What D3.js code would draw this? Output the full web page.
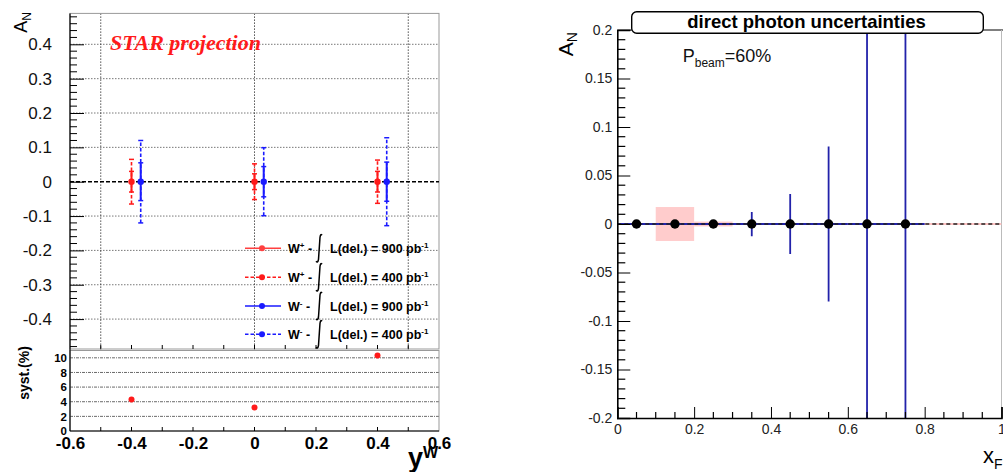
<!DOCTYPE html>
<html><head><meta charset="utf-8">
<script src="https://cdn.jsdelivr.net/npm/d3@7"></script>
<style>
html,body{margin:0;padding:0;background:#fff;}
svg{display:block;font-family:"Liberation Sans",Arial,sans-serif;}
</style></head>
<body>
<svg id="c" width="1003" height="472"></svg>
<script>
// ---------- Left chart data ----------
const yWplus = [-0.4, 0, 0.4];
const yWminus = [-0.37, 0.03, 0.43];
const anWplus = [0, 0, 0];
const anWminus = [0, 0, 0];
const errWplus900 = [0.03, 0.023, 0.03];
const errWplus400 = [0.065, 0.052, 0.063];
const errWminus900 = [0.055, 0.044, 0.057];
const errWminus400 = [0.12, 0.099, 0.128];
const systPct = [4.3, 3.2, 10.3];
const leftXTicks = [-0.6, -0.4, -0.2, 0, 0.2, 0.4, 0.6];
const leftYTicks = [-0.4, -0.3, -0.2, -0.1, 0, 0.1, 0.2, 0.3, 0.4];
const systTicks = [0, 2, 4, 6, 8, 10];
const legendSigns = ["+", "+", "-", "-"];
const legendLumis = ["900", "400", "900", "400"];
// ---------- Right chart data ----------
const xF = [0.05, 0.15, 0.25, 0.35, 0.45, 0.55, 0.65, 0.75];
const anPhoton = [0, 0, 0, 0, 0, 0, 0, 0];
const anPhotonErr = [0, 0, 0, 0.0125, 0.031, 0.080, 0.35, 0.45];
const systBinLo = [0.0, 0.1, 0.2, 0.3, 0.4, 0.5, 0.6, 0.7, 0.8, 0.9];
const systBinHi = [0.1, 0.2, 0.3, 0.4, 0.5, 0.6, 0.7, 0.8, 0.9, 1.0];
const systHalf = [0, 0.0175, 0.0025, 0, 0, 0, 0, 0, 0, 0];
const rightXTicks = [0, 0.2, 0.4, 0.6, 0.8, 1];
const rightYTicks = [-0.2, -0.15, -0.1, -0.05, 0, 0.05, 0.1, 0.15, 0.2];

const svg = d3.select("#c");
const fmt = d => (d === 0 ? "0" : String(d));

// ================= LEFT PANEL =================
const L = {x0: 70, x1: 439, yTop: 13.4, yMid: 350, yBot: 431};
const xL = d3.scaleLinear().domain([-0.6, 0.6]).range([L.x0, L.x1]);
const yU = d3.scaleLinear().domain([-0.49, 0.49]).range([L.yMid, L.yTop]);
const yS = d3.scaleLinear().domain([0, 11]).range([L.yBot, L.yMid + 0.5]);

const gl = svg.append("g");
gl.selectAll(".hg").data(leftYTicks.filter(d => d !== 0)).join("line")
  .attr("x1", L.x0).attr("x2", L.x1).attr("y1", d => yU(d)).attr("y2", d => yU(d))
  .attr("stroke", "#555").attr("stroke-width", 0.8).attr("stroke-dasharray", "1.5,1.5");
gl.selectAll(".vg").data([-0.5, 0, 0.5]).join("line")
  .attr("x1", d => xL(d)).attr("x2", d => xL(d)).attr("y1", L.yTop).attr("y2", L.yMid)
  .attr("stroke", "#222").attr("stroke-width", 0.8).attr("stroke-dasharray", "1.5,1.5");
gl.selectAll(".sg").data(systTicks.filter(d => d > 0)).join("line")
  .attr("x1", L.x0).attr("x2", L.x1).attr("y1", d => yS(d)).attr("y2", d => yS(d))
  .attr("stroke", "#444").attr("stroke-width", 0.8).attr("stroke-dasharray", "3,1,1,1");
gl.append("rect").attr("x", L.x0).attr("y", L.yTop).attr("width", L.x1 - L.x0).attr("height", L.yMid - 1 - L.yTop)
  .attr("fill", "none").attr("stroke", "#999").attr("stroke-width", 1);
gl.append("rect").attr("x", L.x0).attr("y", L.yMid + 0.5).attr("width", L.x1 - L.x0).attr("height", L.yBot - L.yMid - 0.5)
  .attr("fill", "none").attr("stroke", "#999").attr("stroke-width", 1);
gl.append("line").attr("x1", L.x0).attr("x2", L.x0).attr("y1", L.yTop).attr("y2", L.yBot).attr("stroke", "#000").attr("stroke-width", 1.2);
gl.append("line").attr("x1", L.x0).attr("x2", L.x1).attr("y1", L.yBot).attr("y2", L.yBot).attr("stroke", "#000").attr("stroke-width", 1.2);

const yAxU = d3.axisLeft(yU).tickValues(leftYTicks).tickSize(-14).tickFormat(fmt).tickPadding(18);
const gyU = gl.append("g").attr("transform", `translate(${L.x0},0)`).call(yAxU);
gyU.select(".domain").remove();
gyU.selectAll("text").attr("font-size", 17).attr("fill", "#111");
gyU.selectAll("line").attr("stroke", "#000");
const minorU = d3.range(-0.48, 0.4801, 0.02).filter(v => Math.abs(Math.round(v * 10) - v * 10) > 1e-6);
gl.selectAll(".mu").data(minorU).join("line")
  .attr("x1", L.x0).attr("x2", L.x0 + 7).attr("y1", d => yU(d)).attr("y2", d => yU(d)).attr("stroke", "#000");

const yAxS = d3.axisLeft(yS).tickValues(systTicks).tickSize(0).tickPadding(3);
const gyS = gl.append("g").attr("transform", `translate(${L.x0},0)`).call(yAxS);
gyS.select(".domain").remove();
gyS.selectAll("text").attr("font-size", 11.5).attr("font-weight", "bold").attr("fill", "#000");

const xAxL = d3.axisBottom(xL).tickValues(leftXTicks).tickSize(0).tickFormat(fmt).tickPadding(6);
const gxL = gl.append("g").attr("transform", `translate(0,${L.yBot})`).call(xAxL);
gxL.select(".domain").remove();
gxL.selectAll("text").attr("font-size", 17).attr("font-weight", "bold").attr("fill", "#000");
const xTicks01 = d3.range(-0.5, 0.51, 0.1);
gl.selectAll(".xt1").data(xTicks01).join("line")
  .attr("x1", d => xL(d)).attr("x2", d => xL(d)).attr("y1", L.yBot).attr("y2", L.yBot - 4).attr("stroke", "#000");
gl.selectAll(".xt2").data(xTicks01).join("line")
  .attr("x1", d => xL(d)).attr("x2", d => xL(d)).attr("y1", L.yMid - 1).attr("y2", L.yMid - 5).attr("stroke", "#000");

gl.append("line").attr("x1", L.x0).attr("x2", L.x1).attr("y1", yU(0)).attr("y2", yU(0))
  .attr("stroke", "#000").attr("stroke-width", 1.6).attr("stroke-dasharray", "4,2");

function errBars(xs, ys, errs, color, dashed, width) {
  const g = gl.append("g");
  xs.forEach((x, i) => {
    const cx = xL(x), lo = yU(ys[i] - errs[i]), hi = yU(ys[i] + errs[i]);
    g.append("line").attr("x1", cx).attr("x2", cx).attr("y1", lo).attr("y2", hi)
      .attr("stroke", color).attr("stroke-width", width)
      .attr("stroke-dasharray", dashed ? "3.5,2" : null);
    [lo, hi].forEach(yy => g.append("line").attr("x1", cx - 2.5).attr("x2", cx + 2.5)
      .attr("y1", yy).attr("y2", yy).attr("stroke", color).attr("stroke-width", 1.5));
  });
}
errBars(yWplus, anWplus, errWplus400, "#ff1a1a", true, 1.6);
errBars(yWminus, anWminus, errWminus400, "#1a1aff", true, 1.6);
errBars(yWplus, anWplus, errWplus900, "#ff1a1a", false, 2);
errBars(yWminus, anWminus, errWminus900, "#1a1aff", false, 2);
gl.selectAll(".pp").data(yWplus).join("circle").attr("cx", d => xL(d)).attr("cy", (d, i) => yU(anWplus[i])).attr("r", 3.2).attr("fill", "#ff1a1a");
gl.selectAll(".pm").data(yWminus).join("circle").attr("cx", d => xL(d)).attr("cy", (d, i) => yU(anWminus[i])).attr("r", 3.2).attr("fill", "#1a1aff");

gl.selectAll(".sp").data(yWplus).join("circle").attr("cx", d => xL(d)).attr("cy", (d, i) => yS(systPct[i])).attr("r", 3).attr("fill", "#ff1a1a");

gl.append("text").attr("x", 110).attr("y", 50).attr("font-family", "Liberation Serif, Times New Roman, serif")
  .attr("font-style", "italic").attr("font-weight", "bold").attr("font-size", 22).attr("fill", "#ff1a1a").text("STAR projection");

const anL = gl.append("text").attr("transform", "translate(27,12) rotate(-90)").attr("text-anchor", "end")
  .attr("font-size", 18).attr("fill", "#000");
anL.append("tspan").text("A");
anL.append("tspan").attr("font-size", 12).attr("dy", 4).text("N");
gl.append("text").attr("transform", "translate(29,373) rotate(-90)").attr("text-anchor", "middle")
  .attr("font-size", 14).attr("font-weight", "bold").text("syst.(%)");
const yw = gl.append("text").attr("x", 408).attr("y", 467).attr("font-weight", "bold").attr("font-size", 27);
yw.append("tspan").text("y");
yw.append("tspan").attr("font-size", 16).attr("dy", -9).text("W");

const legRows = [248.3, 277.3, 306, 334.3];
const legColors = ["#ff4040", "#ff1a1a", "#1a1aff", "#1a1aff"];
const legDash = [false, true, false, true];
legendSigns.forEach((sgn, i) => {
  const y = legRows[i];
  const g = gl.append("g");
  g.append("line").attr("x1", 245).attr("x2", 281).attr("y1", y).attr("y2", y)
    .attr("stroke", legColors[i]).attr("stroke-width", 1.6).attr("stroke-dasharray", legDash[i] ? "3.5,2" : null);
  g.append("circle").attr("cx", 262).attr("cy", y).attr("r", 3).attr("fill", legColors[i]);
  const t = g.append("text").attr("x", 288).attr("y", y + 4.5).attr("font-size", 12.5).attr("font-weight", "bold");
  t.append("tspan").text("W");
  t.append("tspan").attr("font-size", 8).attr("dy", -5).text(sgn);
  t.append("tspan").attr("dy", 5).text(" -");
  const ix = 319;
  g.append("path").attr("d", `M${ix + 3},${y - 13} Q${ix + 1.6},${y - 15} ${ix + 1},${y - 11} L${ix - 0.5},${y + 11} Q${ix - 1.2},${y + 15} ${ix - 3},${y + 13}`)
    .attr("fill", "none").attr("stroke", "#000").attr("stroke-width", 1.5);
  const t2 = g.append("text").attr("x", 330).attr("y", y + 4.5).attr("font-size", 12.5).attr("font-weight", "bold");
  t2.append("tspan").text(`L(del.) = ${legendLumis[i]} pb`);
  t2.append("tspan").attr("font-size", 8).attr("dy", -5).text("-1");
});

// ================= RIGHT PANEL =================
const R = {x0: 617.3, x1: 1001.5, yTop: 30, yBot: 418};
const xR = d3.scaleLinear().domain([0, 1]).range([R.x0, R.x1]);
const yR = d3.scaleLinear().domain([-0.2, 0.2]).range([R.yBot, R.yTop]);
const gr = svg.append("g");
svg.append("defs").append("clipPath").attr("id", "clipR").append("rect")
  .attr("x", R.x0).attr("y", R.yTop).attr("width", R.x1 - R.x0).attr("height", R.yBot - R.yTop);

gr.append("line").attr("x1", R.x0).attr("x2", 1003).attr("y1", R.yTop).attr("y2", R.yTop).attr("stroke", "#000").attr("stroke-width", 1);
gr.append("line").attr("x1", R.x1).attr("x2", R.x1).attr("y1", R.yTop).attr("y2", R.yBot).attr("stroke", "#bbb").attr("stroke-width", 1);

const pc = gr.append("g").attr("clip-path", "url(#clipR)");
// systematic band: zero-height bins show as a pink line
pc.selectAll(".sl").data(systBinLo).join("line")
  .attr("x1", d => xR(d)).attr("x2", (d, i) => xR(systBinHi[i])).attr("y1", yR(0)).attr("y2", yR(0))
  .attr("stroke", "#ffc4c4").attr("stroke-width", 2);
pc.selectAll(".sb").data(systBinLo).join("rect")
  .attr("x", d => xR(d)).attr("width", (d, i) => xR(systBinHi[i]) - xR(d))
  .attr("y", (d, i) => yR(systHalf[i])).attr("height", (d, i) => yR(-systHalf[i]) - yR(systHalf[i]))
  .attr("fill", "#ffcccc");
pc.selectAll(".hx").data(xF).join("line")
  .attr("x1", d => xR(d - 0.05)).attr("x2", d => xR(d + 0.05)).attr("y1", (d, i) => yR(anPhoton[i])).attr("y2", (d, i) => yR(anPhoton[i]))
  .attr("stroke", "#2222aa").attr("stroke-width", 2);
pc.selectAll(".ve").data(xF).join("line")
  .attr("x1", d => xR(d)).attr("x2", d => xR(d))
  .attr("y1", (d, i) => yR(anPhoton[i] - anPhotonErr[i])).attr("y2", (d, i) => yR(anPhoton[i] + anPhotonErr[i]))
  .attr("stroke", "#2222aa").attr("stroke-width", 1.8);
pc.append("line").attr("x1", R.x0).attr("x2", R.x1).attr("y1", yR(0)).attr("y2", yR(0))
  .attr("stroke", "#222").attr("stroke-width", 1.6).attr("stroke-dasharray", "4,3");
pc.selectAll(".mk").data(xF).join("circle").attr("cx", d => xR(d)).attr("cy", (d, i) => yR(anPhoton[i])).attr("r", 4.7).attr("fill", "#000");

const gyR = gr.append("g").attr("transform", `translate(${R.x0},0)`)
  .call(d3.axisLeft(yR).tickValues(rightYTicks).tickSize(-13).tickFormat(fmt).tickPadding(5));
gyR.select(".domain").attr("stroke-width", 1.6);
gyR.selectAll("text").attr("font-size", 14).attr("fill", "#222");
gr.selectAll(".myr").data(d3.range(-0.19, 0.195, 0.01).filter(v => Math.abs(Math.round(v * 20) - v * 20) > 1e-6)).join("line")
  .attr("x1", R.x0).attr("x2", R.x0 + 8).attr("y1", d => yR(d)).attr("y2", d => yR(d)).attr("stroke", "#000").attr("stroke-width", 1.2);
const gxR = gr.append("g").attr("transform", `translate(0,${R.yBot})`)
  .call(d3.axisBottom(xR).tickValues(rightXTicks).tickSize(-11).tickFormat(fmt).tickPadding(6));
gxR.select(".domain").attr("stroke-width", 1.6);
gxR.selectAll("text").attr("font-size", 14).attr("fill", "#222");
gr.selectAll(".mxr").data(d3.range(0.05, 1, 0.05).filter(v => Math.abs(Math.round(v * 5) - v * 5) > 1e-6)).join("line")
  .attr("x1", d => xR(d)).attr("x2", d => xR(d)).attr("y1", R.yBot).attr("y2", R.yBot - 6).attr("stroke", "#000").attr("stroke-width", 1.2);

gr.append("rect").attr("x", 631.7).attr("y", 11.7).attr("width", 351.6).attr("height", 21.6).attr("rx", 5)
  .attr("fill", "#fff").attr("stroke", "#000").attr("stroke-width", 1.4);
gr.append("text").attr("x", 806.5).attr("y", 28).attr("text-anchor", "middle").attr("font-size", 18.5).attr("font-weight", "bold")
  .text("direct photon uncertainties");
const pb = gr.append("text").attr("x", 682.7).attr("y", 61.5).attr("font-size", 18).attr("fill", "#111");
pb.append("tspan").text("P");
pb.append("tspan").attr("font-size", 12).attr("dy", 5).text("beam");
pb.append("tspan").attr("dy", -5).text("=60%");
const anR = gr.append("text").attr("transform", "translate(573,32) rotate(-90)").attr("text-anchor", "end").attr("font-size", 21);
anR.append("tspan").text("A");
anR.append("tspan").attr("font-size", 14).attr("dy", 4).text("N");
const xf = gr.append("text").attr("x", 983).attr("y", 463).attr("font-size", 22);
xf.append("tspan").text("x");
xf.append("tspan").attr("font-size", 14).attr("dy", 6).text("F");
</script>
</body></html>
